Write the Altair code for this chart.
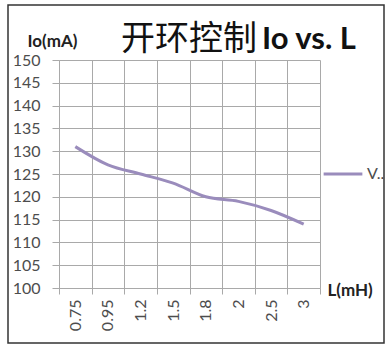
import altair as alt
import pandas as pd

categories = ["0.75", "0.95", "1.2", "1.5", "1.8", "2", "2.5", "3"]
io_values = [131, 127, 125, 123, 120, 119, 117, 114]
series_name = "V.."
y_ticks = [100, 105, 110, 115, 120, 125, 130, 135, 140, 145, 150]

df = pd.DataFrame({"L": categories, "Io": io_values, "series": [series_name] * len(categories)})

GRID = "#a9a9a9"
LINE = "#9a8cbc"
LABEL = "#4d4d4d"

line = alt.Chart(df).mark_line(interpolate="monotone", strokeWidth=3, color=LINE).encode(
    x=alt.X("L:N", sort=categories,
            scale=alt.Scale(type="band", paddingInner=0, paddingOuter=0),
            axis=alt.Axis(title="L(mH)", labelAngle=-90, tickBand="extent", grid=True,
                          gridColor=GRID, domainColor=GRID, tickColor=GRID, tickSize=6,
                          labelPadding=5, labelFont="Lato", labelFontSize=16, labelColor=LABEL,
                          titleFont="Lato", titleFontWeight="bold", titleFontSize=17, titleColor="#222",
                          titleAngle=0, titleAlign="left", titleBaseline="alphabetic",
                          titleX=268, titleY=7)),
    y=alt.Y("Io:Q", scale=alt.Scale(domain=[100, 150], nice=False, zero=False),
            axis=alt.Axis(title="Io(mA)", values=y_ticks, grid=True, gridColor=GRID,
                          domainColor=GRID, tickColor=GRID, tickSize=7, labelPadding=12,
                          labelFont="Lato", labelFontSize=16, labelColor=LABEL,
                          titleFont="Lato", titleFontWeight="bold", titleFontSize=17, titleColor="#222",
                          titleAngle=0, titleAlign="left", titleBaseline="alphabetic",
                          titleX=-32, titleY=-14)),
    stroke=alt.Stroke("series:N", scale=alt.Scale(range=[LINE]),
                      legend=alt.Legend(title=None, orient="none", legendX=263, legendY=93,
                                        symbolType="stroke", symbolSize=1500, symbolStrokeWidth=3,
                                        labelFont="Lato", labelFontSize=16, labelColor=LABEL,
                                        labelOffset=3, symbolOffset=0))
)

title_cn = alt.Chart(pd.DataFrame({"t": ["开环控制"]})).mark_text(
    font="Noto Sans CJK SC", fontSize=34, align="left", baseline="alphabetic", color="#111"
).encode(text="t:N", x=alt.value(62), y=alt.value(-10))

title_en = alt.Chart(pd.DataFrame({"t": ["Io vs. L"]})).mark_text(
    font="Lato", fontSize=31, fontWeight="bold", align="left", baseline="alphabetic", color="#111"
).encode(text="t:N", x=alt.value(203), y=alt.value(-11))

frame = alt.Chart(pd.DataFrame({"a": [0]})).mark_rect(
    fill=None, stroke="#333", strokeWidth=1.5
).encode(x=alt.value(-51), x2=alt.value(325), y=alt.value(-55), y2=alt.value(283))

chart = alt.layer(frame, line, title_cn, title_en).properties(
    width=261, height=228,
    padding={"left": 59, "top": 60, "right": 72, "bottom": 64},
    autosize=alt.AutoSizeParams(type="none"),
    background="white",
).configure_view(stroke=None)

chart.save("out.html", embed_options={"renderer": "svg", "actions": False})
